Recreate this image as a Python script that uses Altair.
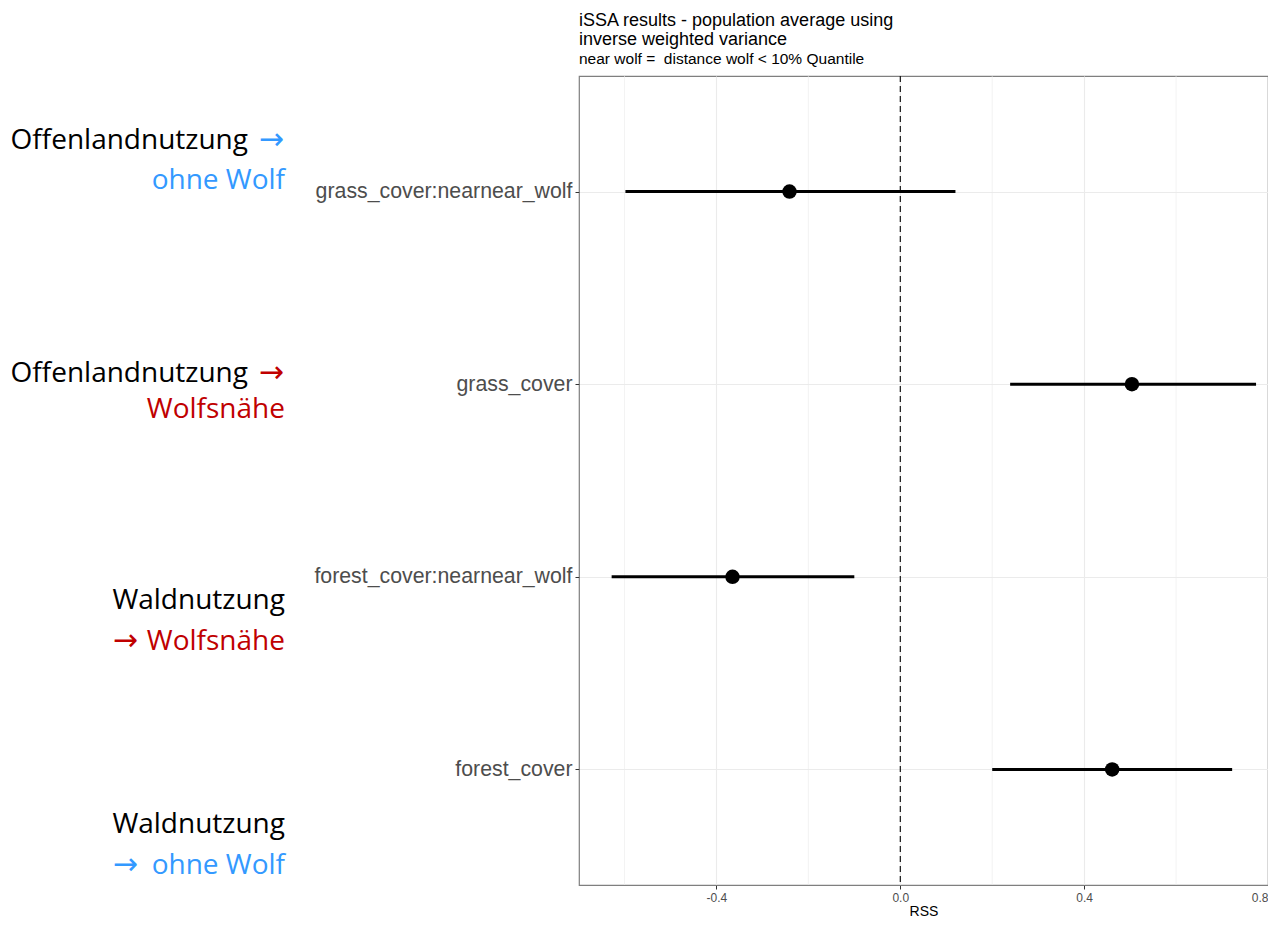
import altair as alt
import pandas as pd

# ---- data ----
terms = ["grass_cover:nearnear_wolf", "grass_cover", "forest_cover:nearnear_wolf", "forest_cover"]
estimate = [-0.241, 0.504, -0.365, 0.461]
lower = [-0.598, 0.239, -0.628, 0.200]
upper = [0.120, 0.774, -0.100, 0.722]
major_ticks = [-0.4, 0.0, 0.4, 0.8]
minor_ticks = [-0.6, -0.2, 0.2, 0.6]
reference_value = [0.0]

title_lines = ["iSSA results - population average using", "inverse weighted variance"]
subtitle_text = "near wolf =\u00a0 distance wolf < 10% Quantile"
x_title = "RSS"

BLUE = "#3399FF"
RED = "#C00000"

df = pd.DataFrame({"term": terms, "estimate": estimate, "lower": lower, "upper": upper})
minor_df = pd.DataFrame({"v": minor_ticks})
zero_df = pd.DataFrame({"v": reference_value})

xscale = alt.Scale(domain=[-0.699, 0.8], nice=False, zero=False)
xaxis = alt.Axis(
    values=major_ticks,
    title=x_title,
    labelExpr="replace(format(datum.value, '.1f'), '\u2212', '-')",
    labelFontSize=12,
    labelColor="#4D4D4D",
    titleFontSize=14,
    titleFontWeight="normal",
    titleColor="black",
    titlePadding=1,
    tickColor="#333333",
    tickSize=4,
    labelPadding=3,
    grid=True,
    gridColor="#EBEBEB",
    gridWidth=1.1,
    domain=False,
)
yenc = alt.Y(
    "term:N",
    sort=terms,
    scale=alt.Scale(type="point", padding=0.6),
    axis=alt.Axis(
        title=None,
        labelFontSize=21.3,
        labelColor="#4D4D4D",
        labelLimit=500,
        tickColor="#333333",
        tickSize=4,
        labelPadding=3,
        grid=True,
        gridColor="#EBEBEB",
        gridWidth=1.1,
        domain=False,
    ),
)

minor = alt.Chart(minor_df).mark_rule(color="#EBEBEB", strokeWidth=0.6).encode(
    x=alt.X("v:Q", scale=xscale, axis=xaxis, title=x_title)
)
zero = alt.Chart(zero_df).mark_rule(color="black", strokeDash=[6, 4], strokeWidth=1.1).encode(
    x=alt.X("v:Q", scale=xscale, axis=xaxis, title=x_title)
)
bars = alt.Chart(df).mark_rule(color="black", strokeWidth=3).encode(
    x=alt.X("lower:Q", scale=xscale, axis=xaxis, title=x_title),
    x2="upper:Q",
    y=yenc,
)
points = alt.Chart(df).mark_circle(size=210, color="black", opacity=1).encode(
    x=alt.X("estimate:Q", scale=xscale, axis=xaxis, title=x_title),
    y=yenc,
)

# ---- left-hand annotations (text, colour, font, x, y) ----
TXT = "Open Sans"
ARR = "DejaVu Sans"
annotations = [
    ("Offenlandnutzung", "black", TXT, -331, 73),
    ("\u2192", BLUE, ARR, -295, 73),
    ("ohne Wolf", BLUE, TXT, -294, 113),
    ("Offenlandnutzung", "black", TXT, -331, 306),
    ("\u2192", RED, ARR, -295, 306),
    ("Wolfsnähe", RED, TXT, -294, 342),
    ("Waldnutzung", "black", TXT, -294, 533),
    ("\u2192", RED, ARR, -441, 574),
    ("Wolfsnähe", RED, TXT, -294, 574),
    ("Waldnutzung", "black", TXT, -294, 757),
    ("\u2192", BLUE, ARR, -441, 798),
    ("ohne Wolf", BLUE, TXT, -294, 798),
]
ann_layers = []
for txt, col, fnt, xv, yv in annotations:
    ann_layers.append(
        alt.Chart(pd.DataFrame({"t": [txt]}))
        .mark_text(
            align="right",
            baseline="alphabetic",
            font=fnt,
            fontSize=28 if fnt == TXT else 30,
            color=col,
        )
        .encode(x=alt.value(xv), y=alt.value(yv), text="t:N")
    )

chart = (
    alt.layer(minor, zero, bars, points, *ann_layers)
    .properties(
        width=689,
        height=809,
        autosize=alt.AutoSizeParams(type="none"),
        padding={"left": 571, "top": 68, "right": 0, "bottom": 32},
        title=alt.TitleParams(
            text=title_lines,
            subtitle=subtitle_text,
            anchor="start",
            frame="group",
            font="Liberation Sans",
            fontSize=18,
            fontWeight="normal",
            color="black",
            lineHeight=19,
            subtitleFont="Liberation Sans",
            subtitleFontSize=15.5,
            subtitleColor="black",
            subtitlePadding=3,
            offset=8,
        ),
    )
    .configure(font="Liberation Sans")
    .configure_view(stroke="#7f7f7f", strokeWidth=1.2)
)

chart.save("out.html", embed_options={"renderer": "svg", "actions": False})
